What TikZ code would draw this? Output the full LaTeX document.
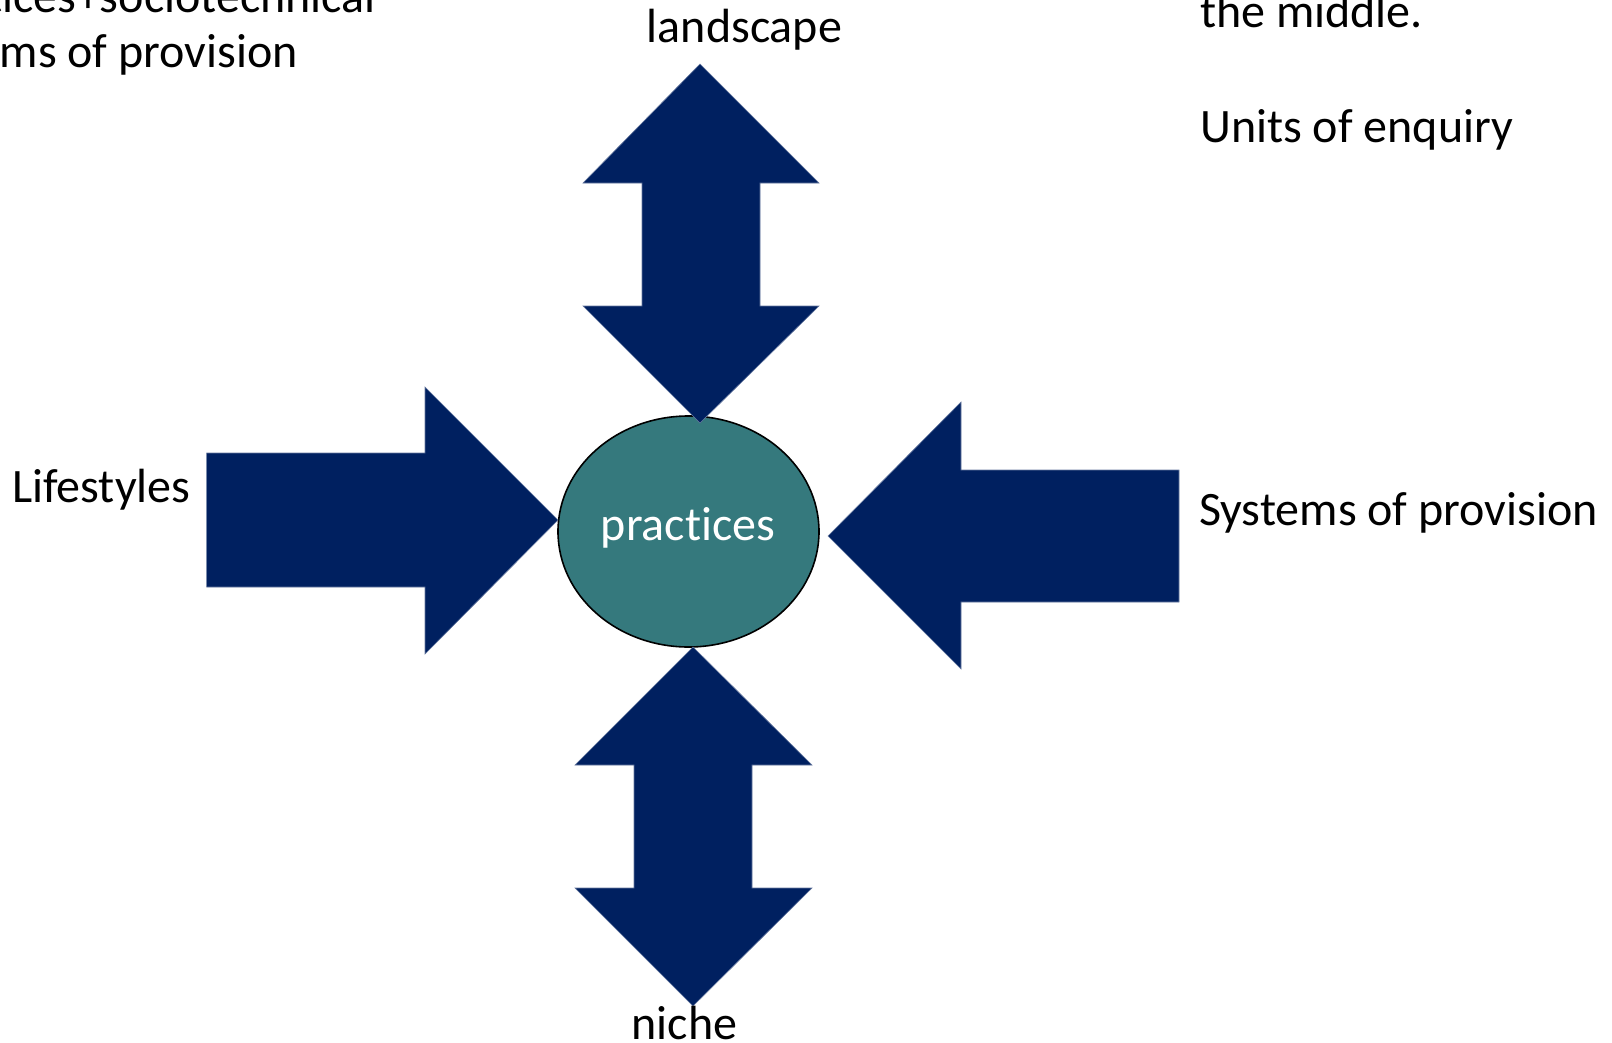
\documentclass[tikz,border=0pt]{standalone}
\usepackage{fontspec}
\setmainfont{Carlito}[Ligatures=NoCommon]
\usetikzlibrary{shapes.geometric}
\definecolor{navyblock}{RGB}{0,32,96}
\definecolor{tealfill}{RGB}{53,121,125}
\tikzset{
  blockarrow/.style={fill=navyblock, draw=navyblock!60!white, line width=0.6pt, line join=miter},
  hub/.style={ellipse, draw=black, line width=1.6pt, fill=tealfill,
    minimum width=261pt, minimum height=231pt, inner sep=0pt},
  lbl/.style={inner sep=0pt, font=\fontsize{48}{57.6}\selectfont, text=black},
  hubtext/.style={lbl, text=white}
}
\begin{document}
\begin{tikzpicture}[x=1pt, y=-1pt]
  \useasboundingbox (0,0) rectangle (1612,1042);
  \clip (0,0) rectangle (1612,1042);
  \fill[white] (0,0) rectangle (1612,1042);

  % central ellipse
  \node[hub] (practices) at (688.5,531.5) {};
  \node[hubtext, anchor=base] (practicestext) at (688,540) {practices};

  % vertical double arrow above the ellipse (landscape)
  \coordinate (landTip) at (700,64);
  \coordinate (landEnd) at (700,423);
  \path[blockarrow] (landTip) -- (819,183) -- (760,183) -- (760,306) -- (819,306)
    -- (landEnd) -- (583,306) -- (642,306) -- (642,183) -- (583,183) -- cycle;

  % vertical double arrow below the ellipse (niche)
  \coordinate (nicheEnd) at (693,647);
  \coordinate (nicheTip) at (693,1006);
  \path[blockarrow] (nicheEnd) -- (812,765) -- (752,765) -- (752,888) -- (812,888)
    -- (nicheTip) -- (575,888) -- (634,888) -- (634,765) -- (575,765) -- cycle;

  % arrow from the left (lifestyles)
  \coordinate (lifeTip) at (558,520);
  \path[blockarrow] (206.6,453) -- (425,453) -- (425,387) -- (lifeTip)
    -- (425,654) -- (425,587) -- (206.6,587) -- cycle;

  % arrow from the right (systems of provision)
  \coordinate (sopTip) at (828,536);
  \path[blockarrow] (1179,470) -- (961,470) -- (961,402) -- (sopTip)
    -- (961,669) -- (961,602) -- (1179,602) -- cycle;

  % labels
  \node[lbl, anchor=base] (landscape) at (744.5,42.7) {landscape};
  \node[lbl, anchor=base] (niche) at (684.5,1039.5) {niche};
  \node[lbl, anchor=base west] (lifestyles) at (12,502.7) {Lifestyles};
  \node[lbl, anchor=base west] (sop) at (1199,525) {Systems of provision};

  % running text at the top corners
  \node[lbl, anchor=base east] (noteLeftA) at (376,12) {tices+sociotechnical};
  \node[lbl, anchor=base east] (noteLeftB) at (298,67) {ms of provision};
  \node[lbl, anchor=base west] (noteRightA) at (1200,27.5) {the middle.};
  \node[lbl, anchor=base west] (noteRightB) at (1200,142) {Units of enquiry};
\end{tikzpicture}
\end{document}
